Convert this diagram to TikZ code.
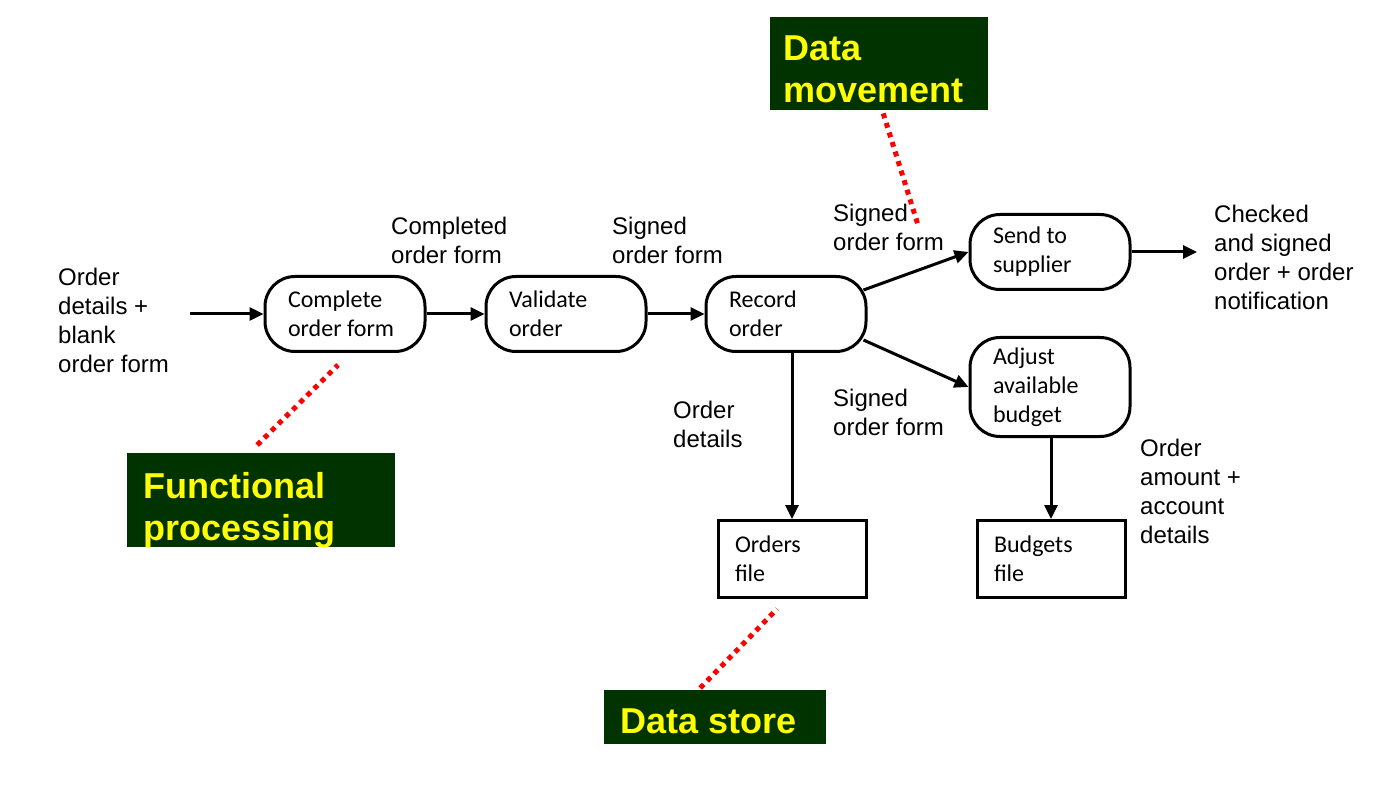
\documentclass[tikz,border=0pt]{standalone}
\usepackage{fontspec}
\setmainfont{Liberation Sans}
\newfontfamily\boxfont{Carlito}
\usetikzlibrary{positioning,calc,arrows.meta}
\definecolor{calloutgreen}{RGB}{0,51,0}
\definecolor{calloutyellow}{RGB}{255,255,0}
\tikzset{
	every node/.style={execute at begin node={\spaceskip=0pt\xspaceskip=0pt\relax}},
	process/.style={draw, line width=3pt, rounded corners=30pt, inner xsep=23pt, text width=114pt, minimum height=75pt, align=left, font=\boxfont\fontsize{24}{29}\selectfont},
	store/.style={draw, line width=3pt, inner xsep=17pt, text width=114pt, minimum height=77pt, align=left, font=\boxfont\fontsize{24}{29}\selectfont},
	flowlabel/.style={inner sep=0pt, anchor=west, align=left, font=\fontsize{24}{29}\selectfont},
	callout/.style={fill=calloutgreen, text=calloutyellow, inner ysep=0pt, anchor=north west, align=left, font=\bfseries\fontsize{36}{42}\selectfont},
	flow/.style={line width=3pt, -{Triangle[length=14pt,width=13pt]}},
	pointer/.style={red, line width=5pt, dash pattern=on 5pt off 5pt}
}

\begin{document}
\begin{tikzpicture}[x=1pt, y=-1pt]
	\useasboundingbox[fill=white] (0,0) rectangle (1398,794);
	\begin{scope}
		% processes and stores
		\node[process] (complete) at (345, 314) {Complete\\order form};
		\node[process] (validate) at (566, 314) {Validate\\order};
		\node[process] (record) at (786, 314) {Record\\order};
		\node[process] (send) at (1050, 252) {Send to\\supplier};
		\node[process, minimum height=99pt] (adjust) at (1050, 387) {Adjust\\available\\budget};
		\node[store] (orders) at (792, 559) {Orders\\file};
		\node[store] (budgets) at (1051, 559) {Budgets\\file};

		% data labels
		\node[flowlabel] (input) at (58, 320) {Order\\details +\\blank\\order form};
		\node[flowlabel] (completed) at (391, 240) {Completed\\order form};
		\node[flowlabel] (signed1) at (612, 240) {Signed\\order form};
		\node[flowlabel] (signed2) at (833, 227) {Signed\\order form};
		\node[flowlabel] (output) at (1214, 257) {Checked\\and signed\\order + order\\notification};
		\node[flowlabel] (details) at (673, 424) {Order\\details};
		\node[flowlabel] (signed3) at (833, 412) {Signed\\order form};
		\node[flowlabel] (amount) at (1140, 491) {Order\\amount +\\account\\details};

		% callouts
		\node[callout, inner xsep=13pt, text width=192pt, minimum height=93pt, text height=26pt, text depth=33pt] (datamove) at (770, 17) {Data\\movement};
		\node[callout, inner xsep=16pt, text width=236pt, minimum height=94pt, text height=26pt, text depth=30pt] (funcproc) at (127, 453) {Functional\\processing};
		\node[callout, inner xsep=16pt, text width=190pt, minimum height=54pt, text height=32pt, text depth=0pt] (datastore) at (604, 690) {Data store};

		\coordinate (inputend) at (190, 314);
		\coordinate (sendout) at (1197, 252);
		\coordinate (movetip) at (918, 225);
		\coordinate (proctip) at (338, 365);
		\coordinate (storetip) at (777, 609);

		% flows
		\draw[flow] (inputend) -- (complete);
		\draw[flow] (complete) -- (validate);
		\draw[flow] (validate) -- (record);
		\draw[flow] ([xshift=-4pt, yshift=24pt]record.east) -- (send.west);
		\draw[flow] ([xshift=-4pt, yshift=-26pt]record.east) -- (adjust.west);
		\draw[flow] (send) -- (sendout);
		\draw[flow] (record.south -| orders.north) -- (orders.north);
		\draw[flow] (adjust.south -| budgets.north) -- (budgets.north);

		% pointers
		\draw[pointer] ([xshift=4pt, yshift=-3pt]datamove.south) -- (movetip);
		\draw[pointer] ([xshift=-4pt, yshift=8pt]funcproc.north) -- (proctip);
		\draw[pointer] ([xshift=-15pt, yshift=2pt]datastore.north) -- (storetip);
	\end{scope}
\end{tikzpicture}
\end{document}
